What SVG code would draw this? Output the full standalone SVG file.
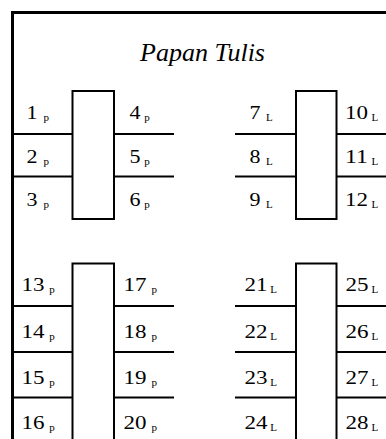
<svg xmlns="http://www.w3.org/2000/svg" width="386" height="439" viewBox="0 0 386 439">
<style>
.border{stroke:#000;stroke-width:3;fill:none}
.desk{stroke:#000;stroke-width:2;fill:#fff}
.ln{stroke:#000;stroke-width:2;fill:none}
.num{font-size:19.5px}
.sub{font-size:11px}
.title{font-size:26px;font-style:italic}
</style>
<rect width="386" height="439" fill="#fff"/>
<g id="room">
<path class="border" d="M12.5 439 V12.5 H386"/>
</g>
<g font-family="Liberation Serif, Times New Roman, serif" fill="#000">
<g id="board"><text class="title" x="202.5" y="61" text-anchor="middle">Papan Tulis</text></g>
<g id="desk-top-left"><rect class="desk" x="72.5" y="91" width="41.5" height="128"/></g>
<g id="desk-top-right"><rect class="desk" x="296" y="91" width="40.5" height="128"/></g>
<g id="desk-bottom-left"><rect class="desk" x="72.5" y="263.5" width="41.5" height="190"/></g>
<g id="desk-bottom-right"><rect class="desk" x="296" y="263.5" width="40.5" height="190"/></g>
<g id="connectors">
<path class="ln" d="M14 134 H72.5 M14 176.5 H72.5 M114 134 H174 M114 176.5 H174"/>
<path class="ln" d="M235 134 H296 M235 176.5 H296 M336.5 134 H386 M336.5 176.5 H386"/>
<path class="ln" d="M14 306 H72.5 M14 352 H72.5 M14 397.5 H72.5 M114 306 H174 M114 352 H174 M114 397.5 H174"/>
<path class="ln" d="M235 306 H296 M235 352 H296 M235 397.5 H296 M336.5 306 H386 M336.5 352 H386 M336.5 397.5 H386"/>
</g>
<g id="seat-1"><text class="num" x="26.5" y="119" textLength="11" lengthAdjust="spacingAndGlyphs">1</text><text class="sub" x="43.5" y="121.3">p</text></g>
<g id="seat-2"><text class="num" x="26.5" y="162.5" textLength="11" lengthAdjust="spacingAndGlyphs">2</text><text class="sub" x="43.5" y="164.8">p</text></g>
<g id="seat-3"><text class="num" x="26.5" y="206" textLength="11" lengthAdjust="spacingAndGlyphs">3</text><text class="sub" x="43.5" y="208.3">p</text></g>
<g id="seat-4"><text class="num" x="129.5" y="119" textLength="11" lengthAdjust="spacingAndGlyphs">4</text><text class="sub" x="144.2" y="121.3">p</text></g>
<g id="seat-5"><text class="num" x="129.5" y="162.5" textLength="11" lengthAdjust="spacingAndGlyphs">5</text><text class="sub" x="144.2" y="164.8">p</text></g>
<g id="seat-6"><text class="num" x="129.5" y="206" textLength="11" lengthAdjust="spacingAndGlyphs">6</text><text class="sub" x="144.2" y="208.3">p</text></g>
<g id="seat-7"><text class="num" x="249.5" y="119" textLength="11" lengthAdjust="spacingAndGlyphs">7</text><text class="sub" x="266" y="121.3">L</text></g>
<g id="seat-8"><text class="num" x="249.5" y="162.5" textLength="11" lengthAdjust="spacingAndGlyphs">8</text><text class="sub" x="266" y="164.8">L</text></g>
<g id="seat-9"><text class="num" x="249.5" y="206" textLength="11" lengthAdjust="spacingAndGlyphs">9</text><text class="sub" x="266" y="208.3">L</text></g>
<g id="seat-10"><text class="num" x="345" y="119" textLength="23" lengthAdjust="spacingAndGlyphs">10</text><text class="sub" x="371.5" y="121.3">L</text></g>
<g id="seat-11"><text class="num" x="345" y="162.5" textLength="23" lengthAdjust="spacingAndGlyphs">11</text><text class="sub" x="371.5" y="164.8">L</text></g>
<g id="seat-12"><text class="num" x="345" y="206" textLength="23" lengthAdjust="spacingAndGlyphs">12</text><text class="sub" x="371.5" y="208.3">L</text></g>
<g id="seat-13"><text class="num" x="21.5" y="291" textLength="23" lengthAdjust="spacingAndGlyphs">13</text><text class="sub" x="49.2" y="293.3">p</text></g>
<g id="seat-14"><text class="num" x="21.5" y="337.5" textLength="23" lengthAdjust="spacingAndGlyphs">14</text><text class="sub" x="49.2" y="339.8">p</text></g>
<g id="seat-15"><text class="num" x="21.5" y="384" textLength="23" lengthAdjust="spacingAndGlyphs">15</text><text class="sub" x="49.2" y="386.3">p</text></g>
<g id="seat-16"><text class="num" x="21.5" y="429" textLength="23" lengthAdjust="spacingAndGlyphs">16</text><text class="sub" x="49.2" y="431.3">p</text></g>
<g id="seat-17"><text class="num" x="123.5" y="291" textLength="23" lengthAdjust="spacingAndGlyphs">17</text><text class="sub" x="151.5" y="293.3">p</text></g>
<g id="seat-18"><text class="num" x="123.5" y="337.5" textLength="23" lengthAdjust="spacingAndGlyphs">18</text><text class="sub" x="151.5" y="339.8">p</text></g>
<g id="seat-19"><text class="num" x="123.5" y="384" textLength="23" lengthAdjust="spacingAndGlyphs">19</text><text class="sub" x="151.5" y="386.3">p</text></g>
<g id="seat-20"><text class="num" x="123.5" y="429" textLength="23" lengthAdjust="spacingAndGlyphs">20</text><text class="sub" x="151.5" y="431.3">p</text></g>
<g id="seat-21"><text class="num" x="244.5" y="291" textLength="23" lengthAdjust="spacingAndGlyphs">21</text><text class="sub" x="270.2" y="293.3">L</text></g>
<g id="seat-22"><text class="num" x="244.5" y="337.5" textLength="23" lengthAdjust="spacingAndGlyphs">22</text><text class="sub" x="270.2" y="339.8">L</text></g>
<g id="seat-23"><text class="num" x="244.5" y="384" textLength="23" lengthAdjust="spacingAndGlyphs">23</text><text class="sub" x="270.2" y="386.3">L</text></g>
<g id="seat-24"><text class="num" x="244.5" y="429" textLength="23" lengthAdjust="spacingAndGlyphs">24</text><text class="sub" x="270.2" y="431.3">L</text></g>
<g id="seat-25"><text class="num" x="345.5" y="291" textLength="23" lengthAdjust="spacingAndGlyphs">25</text><text class="sub" x="371.5" y="293.3">L</text></g>
<g id="seat-26"><text class="num" x="345.5" y="337.5" textLength="23" lengthAdjust="spacingAndGlyphs">26</text><text class="sub" x="371.5" y="339.8">L</text></g>
<g id="seat-27"><text class="num" x="345.5" y="384" textLength="23" lengthAdjust="spacingAndGlyphs">27</text><text class="sub" x="371.5" y="386.3">L</text></g>
<g id="seat-28"><text class="num" x="345.5" y="429" textLength="23" lengthAdjust="spacingAndGlyphs">28</text><text class="sub" x="371.5" y="431.3">L</text></g>
</g>
</svg>
